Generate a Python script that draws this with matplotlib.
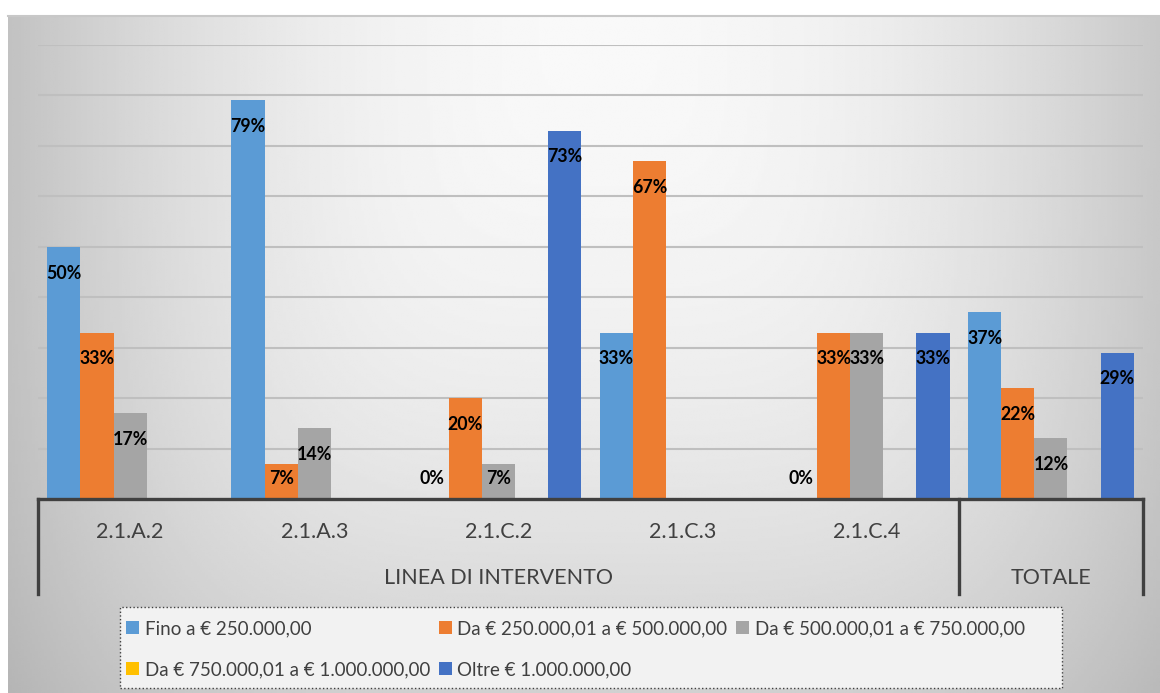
import matplotlib.pyplot as plt
import matplotlib.patches as mpatches
import numpy as np

# Data (percent values, nan = no bar / no label)
categories = ['2.1.A.2', '2.1.A.3', '2.1.C.2', '2.1.C.3', '2.1.C.4', 'TOTALE']
tick_labels = ['2.1.A.2', '2.1.A.3', '2.1.C.2', '2.1.C.3', '2.1.C.4', '']
series_names = ['Fino a € 250.000,00',
                'Da € 250.000,01 a € 500.000,00',
                'Da € 500.000,01 a € 750.000,00',
                'Da € 750.000,01 a € 1.000.000,00',
                'Oltre € 1.000.000,00']
fino = [50, 79, 0, 33, 0, 37]
da_250 = [33, 7, 20, 67, 33, 22]
da_500 = [17, 14, 7, np.nan, 33, 12]
da_750 = [np.nan] * 6
oltre = [np.nan, np.nan, 73, np.nan, 33, 29]
groups = ['LINEA DI INTERVENTO', 'TOTALE']

colors = ['#5b9bd5', '#ed7d31', '#a5a5a5', '#ffc000', '#4472c4']
values = [fino, da_250, da_500, da_750, oltre]

plt.rcParams['font.family'] = ['Lato', 'DejaVu Sans']

W, H = 1160, 693
fig = plt.figure(figsize=(W / 100, H / 100), dpi=100, facecolor='white')


def fx(px):
    return px / W


def fy(py):
    return 1 - py / H


# gradient background of the chart area
bg = fig.add_axes([fx(8), 0, 1 - fx(8), fy(16)], zorder=-10)
X, Y = np.meshgrid(np.linspace(8, 1160, 400), np.linspace(16, 693, 300))
t = ((np.abs(X - 600) / 600) ** 4 + (np.abs(Y - 16) / 800) ** 4) ** 0.25
g = 0.975 - 0.22 * t ** 2
bg.imshow(g, cmap='gray', vmin=0, vmax=1, aspect='auto', interpolation='bilinear')
bg.axis('off')
fig.add_artist(plt.Line2D([fx(8), 1], [fy(16), fy(16)], color='#c8c8c8', lw=1.5))

ax = fig.add_axes([fx(38), fy(499), fx(1143) - fx(38), (499 - 45) / H])
ax.set_facecolor('none')
for s in ax.spines.values():
    s.set_visible(False)

x = np.arange(len(categories))
width = 0.18
handles = []
for i, (name, vals, col) in enumerate(zip(series_names, values, colors)):
    v = np.array(vals, dtype=float)
    pos = x + (i - 2) * width
    bars = ax.bar(pos, v, width, color=col, label=name, zorder=3)
    handles.append(bars)
    for xp, val in zip(pos, v):
        if np.isnan(val):
            continue
        ax.text(xp, max(val - 5.2, 4), f'{val:.0f}%', ha='center', va='center',
                fontsize=12.8, fontweight='bold', color='black', zorder=5)

ax.set_xlim(-0.5, len(categories) - 0.5)
ax.set_ylim(0, 90)
ax.set_yticks(np.arange(10, 100, 10))
ax.set_xticks([])
ax.tick_params(left=False, labelleft=False)
ax.yaxis.grid(True, color='#bfbfbf', lw=1.5)
ax.set_axisbelow(True)

# multi-level category axis
ax.axhline(0, color='#404040', lw=2.4, zorder=4, clip_on=False)
tr = ax.get_xaxis_transform()
for xb in [-0.5, 4.5, 5.5]:
    ax.plot([xb, xb], [0, -0.209], transform=tr, clip_on=False, color='#404040', lw=2.4)
for i, c in enumerate(tick_labels):
    ax.text(i, -0.0727, c, transform=tr, ha='center', va='center', fontsize=15.5, color='#404040')
ax.text(2, -0.174, groups[0], transform=tr, ha='center', va='center', fontsize=15.5, color='#404040')
ax.text(5, -0.174, groups[1], transform=tr, ha='center', va='center', fontsize=15.5, color='#404040')

# legend box
fig.add_artist(mpatches.Rectangle((fx(120), fy(688)), (1062 - 120) / W, (688 - 607) / H,
                                  transform=fig.transFigure, facecolor='#f2f2f2',
                                  edgecolor='#404040', linestyle=':', lw=1))
order = [0, 3, 1, 4, 2]
leg = fig.legend([handles[k] for k in order], [series_names[k] for k in order],
                 loc='upper left', bbox_to_anchor=(fx(126), fy(620)), ncol=3, frameon=False,
                 fontsize=13.5, handlelength=0.7, handleheight=0.7, handletextpad=0.3,
                 columnspacing=0.45, labelspacing=1.3, borderaxespad=0, borderpad=0)
for txt in leg.get_texts():
    txt.set_color('#404040')

fig.savefig('out.png', dpi=100)
